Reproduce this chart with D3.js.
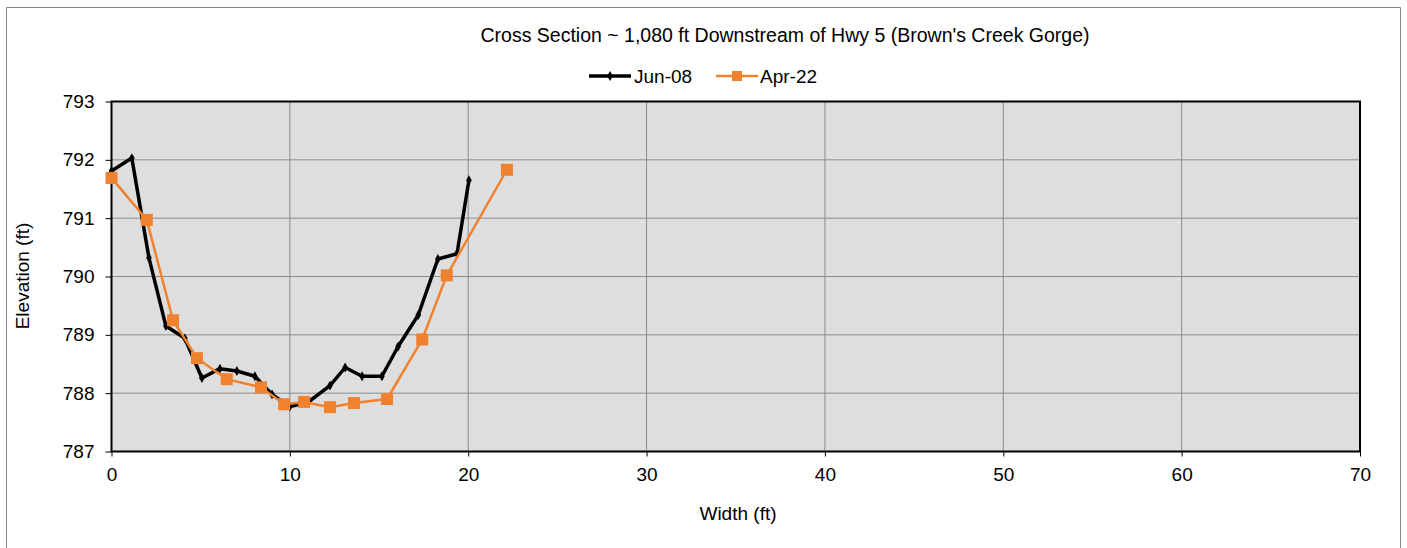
<!DOCTYPE html>
<html lang="en">
<head>
    <meta charset="utf-8">
    <title>Cross Section</title>
    <script src="https://d3js.org/d3.v7.min.js"></script>
    <style>
        body{ margin: 0; background: #fff; }
        text{ font-family: "Liberation Sans", Arial, sans-serif; fill: #000; }
        .tickT{ font-size: 19px; }
        .titleT{ font-size: 19.5px; }
        .axisT{ font-size: 19px; }
        .legendT{ font-size: 19px; }
    </style>
</head>
<body>
    <div id="container"></div>
    <script type="text/javascript">
        // Jun-08 survey
        var junX = [0, 1.14, 2.1, 3.05, 4.11, 5.07, 6.08, 7.03, 8.04, 9.0, 10.0, 11.0, 12.25, 13.1, 14.05, 15.16, 16.07, 17.2, 18.3, 19.37, 20.04];
        var junY = [791.81, 792.03, 790.32, 789.15, 788.94, 788.26, 788.42, 788.38, 788.29, 787.98, 787.77, 787.84, 788.13, 788.44, 788.29, 788.29, 788.8, 789.34, 790.3, 790.39, 791.65];
        // Apr-22 survey
        var aprX = [0, 1.98, 3.45, 4.79, 6.46, 8.38, 9.68, 10.8, 12.25, 13.6, 15.45, 17.42, 18.8, 22.17];
        var aprY = [791.69, 790.97, 789.25, 788.6, 788.24, 788.1, 787.81, 787.85, 787.76, 787.83, 787.9, 788.92, 790.02, 791.83];
        var xTicks = [0, 10, 20, 30, 40, 50, 60, 70];
        var yTicks = [787, 788, 789, 790, 791, 792, 793];

        var W = 1407, H = 548;
        var plot = {left: 111.5, right: 1360, top: 101.5, bottom: 451.5};
        var black = '#000000', orange = '#f0822f';

        var svg = d3.select('#container')
                    .append('svg')
                    .attr('width', W)
                    .attr('height', H);

        // outer chart frame (bottom runs off the picture)
        svg.append('path')
           .attr('d', 'M6.5,' + H + 'V7.5H1400.5V' + H)
           .attr('fill', 'none')
           .attr('stroke', '#888')
           .attr('stroke-width', 1);

        var xScale = d3.scaleLinear().domain([0, 70]).range([plot.left, plot.right]);
        var yScale = d3.scaleLinear().domain([787, 793]).range([plot.bottom, plot.top]);

        svg.append('rect')
           .attr('x', plot.left).attr('y', plot.top)
           .attr('width', plot.right - plot.left)
           .attr('height', plot.bottom - plot.top)
           .attr('fill', '#dedede');

        // gridlines
        svg.append('g').selectAll('line')
           .data(xTicks.slice(1, -1))
           .enter().append('line')
           .attr('x1', d => xScale(d)).attr('x2', d => xScale(d))
           .attr('y1', plot.top).attr('y2', plot.bottom)
           .attr('stroke', '#8c8c8c').attr('stroke-width', 1);
        svg.append('g').selectAll('line')
           .data(yTicks.slice(1, -1))
           .enter().append('line')
           .attr('x1', plot.left).attr('x2', plot.right)
           .attr('y1', d => yScale(d)).attr('y2', d => yScale(d))
           .attr('stroke', '#8c8c8c').attr('stroke-width', 1);

        svg.append('rect')
           .attr('x', plot.left).attr('y', plot.top)
           .attr('width', plot.right - plot.left)
           .attr('height', plot.bottom - plot.top)
           .attr('fill', 'none')
           .attr('stroke', '#000').attr('stroke-width', 2);

        var xAxis = d3.axisBottom(xScale).tickValues(xTicks).tickSize(5).tickPadding(11).tickFormat(d3.format('d'));
        var yAxis = d3.axisLeft(yScale).tickValues(yTicks).tickSize(6).tickPadding(11).tickFormat(d3.format('d'));

        var gx = svg.append('g')
           .attr('transform', 'translate(0,' + plot.bottom + ')')
           .call(xAxis);
        var gy = svg.append('g')
           .attr('transform', 'translate(' + plot.left + ',0)')
           .call(yAxis);
        [gx, gy].forEach(function(g){
            g.select('.domain').remove();
            g.selectAll('.tick line').attr('stroke', '#000');
            g.selectAll('.tick text').attr('class', 'tickT').attr('font-family', null).attr('font-size', null);
        });

        svg.append('text')
           .text("Cross Section ~ 1,080 ft Downstream of Hwy 5 (Brown's Creek Gorge)")
           .attr('class', 'titleT')
           .attr('x', 785).attr('y', 42)
           .attr('text-anchor', 'middle');

        svg.append('text')
           .text('Width (ft)')
           .attr('class', 'axisT')
           .attr('x', 738).attr('y', 520)
           .attr('text-anchor', 'middle');
        svg.append('text')
           .text('Elevation (ft)')
           .attr('class', 'axisT')
           .attr('transform', 'translate(29,' + 276 + ') rotate(-90)')
           .attr('text-anchor', 'middle');

        // series
        var jun = junX.map((x, i) => ({x: x, y: junY[i]}));
        var apr = aprX.map((x, i) => ({x: x, y: aprY[i]}));
        var line = d3.line().x(d => xScale(d.x)).y(d => yScale(d.y));

        svg.append('path')
           .attr('d', line(jun))
           .attr('fill', 'none')
           .attr('stroke', black)
           .attr('stroke-width', 3.5)
           .attr('stroke-linejoin', 'round');
        svg.append('g').selectAll('path')
           .data(jun)
           .enter().append('path')
           .attr('d', d3.symbol().type(d3.symbolDiamond).size(28))
           .attr('transform', d => 'translate(' + xScale(d.x) + ',' + yScale(d.y) + ')')
           .attr('fill', black);

        svg.append('path')
           .attr('d', line(apr))
           .attr('fill', 'none')
           .attr('stroke', orange)
           .attr('stroke-width', 2.5);
        svg.append('g').selectAll('rect')
           .data(apr)
           .enter().append('rect')
           .attr('x', d => xScale(d.x) - 6).attr('y', d => yScale(d.y) - 6)
           .attr('width', 12).attr('height', 12)
           .attr('fill', orange);

        // legend
        var lg = svg.append('g');
        lg.append('line')
          .attr('x1', 589).attr('x2', 631).attr('y1', 76).attr('y2', 76)
          .attr('stroke', black).attr('stroke-width', 3.5);
        lg.append('path')
          .attr('d', d3.symbol().type(d3.symbolDiamond).size(28))
          .attr('transform', 'translate(610,76)')
          .attr('fill', black);
        lg.append('text').text('Jun-08').attr('class', 'legendT')
          .attr('x', 634).attr('y', 83);
        lg.append('line')
          .attr('x1', 716).attr('x2', 758).attr('y1', 76).attr('y2', 76)
          .attr('stroke', orange).attr('stroke-width', 2.5);
        lg.append('rect')
          .attr('x', 732).attr('y', 71).attr('width', 10).attr('height', 10)
          .attr('fill', orange);
        lg.append('text').text('Apr-22').attr('class', 'legendT')
          .attr('x', 760).attr('y', 83);
    </script>
</body>
</html>
